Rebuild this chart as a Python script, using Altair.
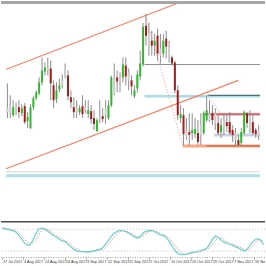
import altair as alt
import pandas as pd

# ---------------- data (price units, bars indexed 0..87) ----------------
bar_index = list(range(88))
direction = ["flat","flat","up","flat","down","up","down","up","up","up",
             "up","up","up","up","flat","down","down","up","up","flat",
             "flat","down","down","down","flat","up","down","flat","up","down",
             "down","up","flat","down","flat","up","up","flat","down","flat",
             "up","down","flat","down","up","up","up","up","down","flat",
             "down","up","down","flat","up","down","flat","down","down","down",
             "up","down","flat","down","up","up","down","flat","up","up",
             "flat","down","flat","down","up","flat","down","down","down","flat",
             "down","up","up","down","flat","down","down","flat"]
high = [147,135,130,128,130,126,127,118,126,134,
        140,153,173,168,173,170,150,148,152,156,
        167,160,140,133,130,125,135,130,130,125,
        120,112,130,122,130,130,155,167,160,158,
        173,173,162,155,145,160,180,208,217,208,
        200,197,202,197,197,200,190,175,170,145,
        125,122,112,117,117,112,110,117,119,134,
        130,125,122,115,112,117,115,118,105,102,
        95,102,120,118,120,115,102,105]
low = [112,112,113,115,112,114,106,102,101,120,
       130,135,145,155,155,130,122,127,138,142,
       152,130,122,112,112,115,112,117,112,106,
       100,98,107,108,106,110,123,135,138,138,
       148,145,140,135,132,138,150,164,185,175,
       175,175,170,167,173,172,168,165,137,110,
       107,85,90,85,90,92,85,85,95,108,
       108,105,100,95,92,95,98,95,88,85,
       84,84,95,102,97,95,92,90]
open_ = [122,125,115,120,123,117,124,109,102,123,
         132,137,148,159,160,162,145,131,141,146,
         162,155,133,123,122,118,124,123,116,119,
         112,99,114,114,122,112,125,152,153,152,
         153,165,158,150,134,142,154,166,205,197,
         190,185,195,182,177,192,183,173,168,140,
         112,115,99,98,97,96,97,105,97,110,
         117,117,117,107,98,110,108,108,100,97,
         90,87,97,117,113,108,100,100]
close = [118,117,123,123,118,122,108,113,123,132,
         138,148,160,163,162,147,130,140,145,150,
         155,134,128,118,117,122,116,120,120,111,
         106,110,111,111,115,125,153,137,149,148,
         166,154,150,144,140,156,167,204,195,183,
         185,190,177,175,190,184,173,167,140,115,
         116,96,93,95,100,101,88,95,117,120,
         110,110,107,97,105,103,104,97,95,90,
         85,98,118,107,102,97,96,94]

stoch_k = [82,81,79,77,75,68,58,46,37,36,
           48,66,80,83,81,75,69,63,58,52,
           48,45,37,30,24,20,19,18,18,18,
           20,22,24,26,35,46,58,68,73,77,
           76,74,70,65,59,56,60,71,75,77,
           76,72,67,64,62,53,42,28,17,11,
           10,11,14,16,17,19,21,24,27,38,
           52,62,57,50,44,41,38,35,31,27,
           22,21,30,42,50,54,50,38]
stoch_d = [84,83,81,79,77,73,66,56,46,39,
           40,50,64,76,81,80,75,69,63,58,
           53,48,43,37,30,25,21,19,18,18,
           19,20,22,24,28,36,46,57,66,73,
           76,76,73,69,64,60,58,62,69,74,
           76,75,71,67,64,60,52,41,29,19,
           13,11,12,14,16,17,19,21,24,30,
           39,51,57,56,50,45,41,38,35,31,
           27,23,24,31,41,49,52,47]
stoch_levels = [20, 80]

date_ticks = [0, 7, 14, 21, 28, 35, 42, 49, 56, 63, 70, 77, 84]
date_labels = ["27 Jul 2017", "4 Aug 2017", "14 Aug 2017", "24 Aug 2017",
               "3 Sep 2017", "12 Sep 2017", "21 Sep 2017", "1 Oct 2017",
               "10 Oct 2017", "20 Oct 2017", "29 Oct 2017", "7 Nov 2017",
               "16 Nov 2017"]

# trend lines (bar index, price)
upper_channel_x = [-0.5, 60.0]
upper_channel_p = [161, 229]
lower_channel_x = [-0.5, 80.0]
lower_channel_p = [61, 150]
drop1_x = [47.8, 60.7]
drop1_p = [216, 85]
drop2_x = [69.6, 81.0]
drop2_p = [135, 85]

# horizontal levels: start index, price
last_x = 87.5
gray_level = (47.5, 166)
cyan_level = (47.5, 134)
cyan_dark_level = (69.3, 135)
red_level = (68.3, 116)
box_level = (71.5, 95)
support_level = (60.7, 84)
support_dark_level = (69.0, 84)
thin_level = (-0.5, 58)
band_level = (-0.5, 54)

# ---------------- chart ----------------
df = pd.DataFrame({"i": bar_index, "open": open_, "high": high, "low": low,
                   "close": close, "dir": direction, "k": stoch_k, "d": stoch_d})
ticks_df = pd.DataFrame({"t": date_ticks, "label": date_labels})

W = 266
xs = alt.Scale(domain=[-0.5, 87.5], nice=False, zero=False)
ys = alt.Scale(domain=[9, 230], nice=False, zero=False)


def seg(xv, pv, **mk):
    d = pd.DataFrame({"x": xv, "p": pv})
    return alt.Chart(d).mark_line(clip=True, **mk).encode(
        x=alt.X("x:Q", scale=xs, axis=None),
        y=alt.Y("p:Q", scale=ys, axis=None))


def level(lv, **mk):
    d = pd.DataFrame({"x0": [lv[0]], "x1": [last_x], "p": [lv[1]]})
    return alt.Chart(d).mark_rule(**mk).encode(
        x=alt.X("x0:Q", scale=xs, axis=None), x2="x1:Q",
        y=alt.Y("p:Q", scale=ys, axis=None))


base = alt.Chart(df)
wicks = base.mark_rule(color="#8c8c8c", strokeWidth=1).encode(
    x=alt.X("i:Q", scale=xs, axis=None),
    y=alt.Y("low:Q", scale=ys, axis=None), y2="high:Q")
bodies = base.mark_bar(size=2).encode(
    x=alt.X("i:Q", scale=xs, axis=None),
    y=alt.Y("open:Q", scale=ys, axis=None), y2="close:Q",
    color=alt.Color("dir:N", legend=None,
                    scale=alt.Scale(domain=["up", "down", "flat"],
                                    range=["#2db82d", "#a61b1b", "#cdcdcd"])))

top_strip = alt.Chart(df.head(1)).mark_rect(color="#a6a6a6").encode(
    x=alt.value(0), x2=alt.value(W), y=alt.value(0), y2=alt.value(3))

main = alt.layer(
    level(band_level, color="#aee0e8", strokeWidth=3),
    level(thin_level, color="#d6d6d6", strokeWidth=1),
    level(gray_level, color="#8f8f8f", strokeWidth=1),
    level(cyan_level, color="#a9dde6", strokeWidth=2.5),
    level(cyan_dark_level, color="#2f4f55", strokeWidth=1),
    level(box_level, color="#c8d6e4", strokeWidth=3),
    level(red_level, color="#e8b4b8", strokeWidth=3),
    level(red_level, color="#b03a48", strokeWidth=1),
    level(support_level, color="#f6a783", strokeWidth=3),
    level(support_dark_level, color="#b4533c", strokeWidth=1),
    seg(upper_channel_x, upper_channel_p, color="#fa7f62", strokeWidth=1.2),
    seg(lower_channel_x, lower_channel_p, color="#fa7f62", strokeWidth=1.2),
    seg(drop1_x, drop1_p, color="#f7907a", strokeWidth=1, strokeDash=[1, 2]),
    seg(drop2_x, drop2_p, color="#f7907a", strokeWidth=1, strokeDash=[1, 2]),
    wicks, bodies, top_strip,
).properties(width=W, height=221)

# oscillator panel: 45 px tall, 20/80 levels at 8 and 30 px from its top
ss = alt.Scale(domain=[-20.9, 101.8], nice=False, zero=False)
sx = alt.X("i:Q", scale=xs, axis=None)

osc = alt.layer(
    alt.Chart(pd.DataFrame({"v": stoch_levels})).mark_rule(
        color="#c4c4c4", strokeDash=[1, 2], strokeWidth=1).encode(
        y=alt.Y("v:Q", scale=ss, axis=None)),
    base.mark_line(color="#f28b82", strokeWidth=1, strokeDash=[1.5, 1.5]).encode(
        x=sx, y=alt.Y("d:Q", scale=ss, axis=None)),
    base.mark_line(color="#5fd3cf", strokeWidth=1.2).encode(
        x=sx, y=alt.Y("k:Q", scale=ss, axis=None)),
    # top separator and bottom dotted time-axis line
    alt.Chart(df.head(1)).mark_rule(color="#4a4a4a", strokeWidth=1.5).encode(
        x=alt.value(0), x2=alt.value(W), y=alt.value(0.5)),
    alt.Chart(df.head(1)).mark_rule(color="#9a9a9a", strokeWidth=1, strokeDash=[1, 1.5]).encode(
        x=alt.value(0), x2=alt.value(W), y=alt.value(36.5)),
    alt.Chart(ticks_df).mark_rule(color="#8a8a8a", strokeWidth=0.8).encode(
        x=alt.X("t:Q", scale=xs, axis=None), y=alt.value(36.5), y2=alt.value(38.5)),
    alt.Chart(ticks_df).mark_text(
        align="left", baseline="middle", fontSize=3.8, clip=True,
        font="Liberation Sans Narrow, Liberation Sans", color="#333333", dx=0.5).encode(
        x=alt.X("t:Q", scale=xs, axis=None), y=alt.value(41), text="label:N"),
).properties(width=W, height=45)

chart = alt.vconcat(main, osc, spacing=0).properties(
    padding=0, background="white"
).configure_view(stroke=None)

chart.save("out.html", embed_options={"renderer": "svg", "actions": False})
